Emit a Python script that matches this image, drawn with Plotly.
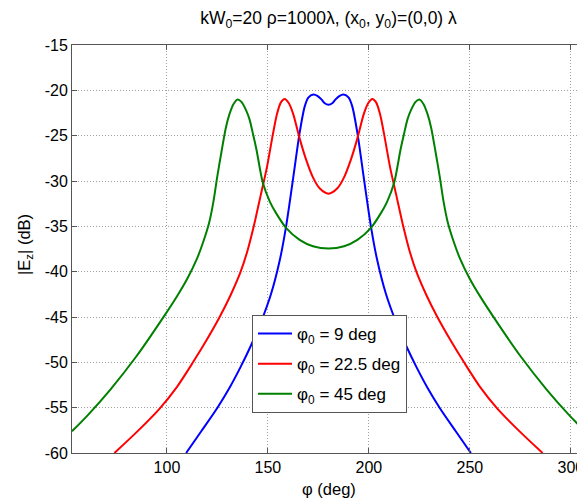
import plotly.graph_objects as go

# ---- data ----
phi_9 = [109.5, 117, 125, 131, 136.5, 141.5, 146.5, 151.5, 156, 159, 162.4, 165.7, 168.2, 170,
         172.5, 174.5, 176.5, 178, 180, 182, 183.5, 185.5, 187.5, 190, 191.8, 194.3, 197.6,
         201, 204, 208.5, 213.5, 218.5, 223.5, 229, 235, 243, 250.5]
ez_9 = [-60, -57.6, -55, -52.8, -50.5, -48.2, -45.6, -42.5, -38.6, -35, -29.85, -24.7, -21.8, -20.8,
        -20.45, -20.6, -21.0, -21.4, -21.6, -21.4, -21.0, -20.6, -20.45, -20.8, -21.8, -24.7, -29.85,
        -35, -38.6, -42.5, -45.6, -48.2, -50.5, -52.8, -55, -57.6, -60]

phi_22 = [74, 85, 96.4, 105, 112.9, 119.5, 126.1, 131.5, 136.5, 140, 143.2, 146.5, 149.5, 152.5,
          154.5, 156.5, 158.3, 160.3, 162.5, 165.7, 169, 172.3, 175.6, 180, 184.4, 187.7, 191,
          194.3, 197.5, 199.7, 201.7, 203.5, 205.5, 207.5, 210.5, 213.5, 216.8, 220, 223.5,
          228.5, 233.9, 240.5, 247.1, 255, 263.6, 275, 286]
ez_22 = [-60, -57.7, -55.1, -52.7, -50, -47.6, -45, -42.6, -40, -37.6, -34.8, -31.5, -28.5, -24.8,
         -22.6, -21.3, -20.95, -21.4, -22.6, -25.3, -27.7, -29.6, -30.8, -31.4, -30.8, -29.6, -27.7,
         -25.3, -22.6, -21.4, -20.95, -21.3, -22.6, -24.8, -28.5, -31.5, -34.8, -37.6, -40,
         -42.6, -45, -47.6, -50, -52.7, -55.1, -57.7, -60]

phi_45 = [53, 60.5, 72, 85, 98.6, 105, 110, 115, 118, 120.9, 123, 125, 127, 129.1, 131, 133, 135,
          137, 139, 140.9, 142.6, 144.3, 147.5, 151, 154.2, 159.1, 165.7, 172.3, 180, 187.7,
          194.3, 200.9, 205.8, 209, 212.5, 215.7, 217.4, 219.1, 221, 223, 225, 227, 229, 230.9,
          233, 235, 237, 239.1, 242, 245, 250, 255, 261.4, 275, 288, 299.5, 307]
ez_45 = [-57.6, -55.9, -53, -49.3, -44.9, -42.7, -40.8, -38.5, -36.7, -34.6, -32.3, -29.4, -26.8,
         -24.2, -22.6, -21.5, -21.0, -21.3, -22.1, -23.2, -24.8, -26.5, -30.2, -32.3, -33.6, -35.2,
         -36.5, -37.2, -37.45, -37.2, -36.5, -35.2, -33.6, -32.3, -30.2, -26.5, -24.8, -23.2, -22.1,
         -21.3, -21.0, -21.5, -22.6, -24.2, -26.8, -29.4, -32.3, -34.6, -36.7, -38.5, -40.8, -42.7,
         -44.9, -49.3, -53, -55.9, -57.6]

series = [
    ("φ<sub>0</sub> = 9 deg", phi_9, ez_9, "#0000FF"),
    ("φ<sub>0</sub> = 22.5 deg", phi_22, ez_22, "#FF0000"),
    ("φ<sub>0</sub> = 45 deg", phi_45, ez_45, "#008000"),
]

x_ticks = [100, 150, 200, 250, 300]
y_ticks = [-60, -55, -50, -45, -40, -35, -30, -25, -20, -15]

FONT = "Liberation Sans, Arial, Helvetica, sans-serif"

# page body has an 8px margin: figure placed at (8, 8)
W, H = 577, 492
L, T, B, R = 64, 37, 47, 0
PW, PH = W - L - R, H - T - B

fig = go.Figure()
for i, (name, xs, ys, col) in enumerate(series):
    fig.add_trace(go.Scatter(x=xs, y=ys, mode="lines", name=name, legendgroup=f"g{i}",
                             line=dict(color=col, width=2, shape="spline", smoothing=0.8)))

axis_common = dict(showgrid=True, gridcolor="#a0a0a0", griddash="1px,2px", gridwidth=1,
                   showline=True, linecolor="#555555", linewidth=1,
                   ticks="inside", ticklen=5, tickcolor="#555555", zeroline=False,
                   tickfont=dict(family=FONT, size=16, color="black"))

fig.update_xaxes(range=[53, 307], tickvals=x_ticks, ticktext=[str(v) for v in x_ticks],
                 mirror="ticks", **axis_common)
fig.update_yaxes(range=[-60, -15], tickvals=y_ticks, ticktext=[str(v) for v in y_ticks],
                 mirror=False, **axis_common)

# target page positions (reference pixels)
def px_to_paper_x(px):
    return (px - 8 - L) / PW

def px_to_paper_y(py):
    return (H - B - (py - 8)) / PH

fig.update_layout(
    width=W, height=H,
    margin=dict(l=L, r=R, t=T, b=B, pad=0),
    paper_bgcolor="white", plot_bgcolor="white",
    font=dict(family=FONT, size=16, color="black"),
    title=dict(text="kW<sub>0</sub>=20 ρ=1000λ, (x<sub>0</sub>, y<sub>0</sub>)=(0,0) λ",
               x=0.5, xref="paper", xanchor="center", y=1 - (18 - 8) / H, yref="container",
               yanchor="middle", font=dict(family=FONT, size=17.5, color="black")),
    showlegend=True,
    legend=dict(x=px_to_paper_x(252), y=px_to_paper_y(315), xanchor="left", yanchor="top",
                bgcolor="white", bordercolor="#555555", borderwidth=1,
                font=dict(family=FONT, size=17, color="black"),
                tracegroupgap=5, itemwidth=34),
    annotations=[
        dict(text="φ (deg)", xref="paper", yref="paper", x=0.5, y=px_to_paper_y(489),
             xanchor="center", yanchor="middle", showarrow=False,
             font=dict(family=FONT, size=16.5, color="black")),
        dict(text="|E<sub>z</sub>| (dB)", xref="paper", yref="paper", x=px_to_paper_x(25),
             y=px_to_paper_y(245), xanchor="center", yanchor="middle", textangle=-90,
             showarrow=False, font=dict(family=FONT, size=16.5, color="black")),
    ],
)

fig.write_html("out.html")
